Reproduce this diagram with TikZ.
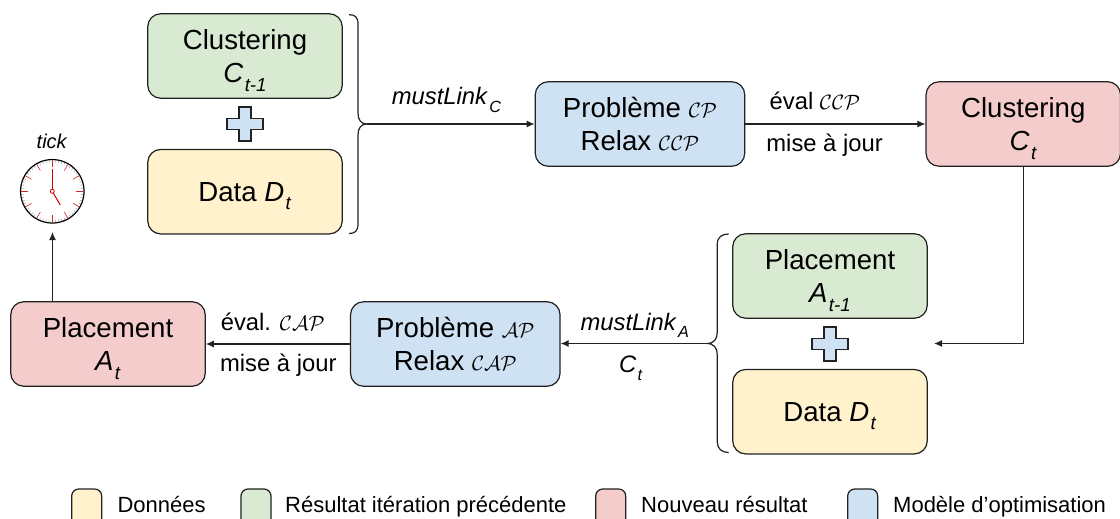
\documentclass[tikz,border=0pt]{standalone}
\usepackage{fontspec}
\setmainfont{Liberation Sans}
\usetikzlibrary{arrows.meta,calc}
\definecolor{cdata}{HTML}{FFF2CC}
\definecolor{cprev}{HTML}{D9EAD3}
\definecolor{cnew}{HTML}{F4CCCC}
\definecolor{cmodel}{HTML}{CFE2F3}
\definecolor{cline}{HTML}{222222}
\definecolor{chand}{HTML}{CC0000}
\newcommand{\idx}[2]{\textit{#1}\hspace{0.05em}\raisebox{-0.32em}[0pt][0pt]{\scalebox{0.68}{\textit{#2}}}}
\newcommand{\callig}[1]{{\fontsize{22}{22}\selectfont$\mathcal{#1}$}}
\tikzset{
  box/.style={draw=cline, line width=1.2pt, rounded corners=13pt, minimum width=194.5pt, minimum height=84.5pt,
    inner sep=0pt, align=center, font=\fontsize{27.6}{33}\selectfont},
  model/.style={box, fill=cmodel, minimum width=209.5pt},
  edgetext/.style={anchor=base, inner sep=0pt, font=\fontsize{23.8}{28}\selectfont},
  legendbox/.style={draw=cline, line width=1.2pt, fill=#1, rounded corners=7pt},
  legendtext/.style={anchor=base west, inner sep=0pt, font=\fontsize{22}{26}\selectfont},
  flow/.style={draw=cline, line width=1.2pt, -{Latex[length=8pt,width=7pt]}},
  brace/.style={draw=cline, line width=1.2pt},
  plussign/.style={draw=cline, line width=1.2pt, fill=cmodel},
}
\begin{document}
\begin{tikzpicture}[x=1pt,y=-1pt]
\useasboundingbox (0,0) rectangle (1120,519);
\clip (0,0) rectangle (1120,519);
% first row
\node[box, fill=cprev] (clu0) at (245,56) {Clustering\\\idx{C}{t-1}};
\node[box, fill=cdata] (dat0) at (245,191.7) {Data \idx{D}{t}};
\node[model] (pbc) at (640,124) {Problème \callig{CP}\\Relax \callig{CCP}};
\node[box, fill=cnew] (clu1) at (1023.3,124) {Clustering\\\idx{C}{t}};
% second row
\node[box, fill=cprev] (pla0) at (830,276) {Placement\\\idx{A}{t-1}};
\node[box, fill=cdata] (dat1) at (830,411.7) {Data \idx{D}{t}};
\node[model] (pba) at (455.3,344) {Problème \callig{AP}\\Relax \callig{CAP}};
\node[box, fill=cnew] (pla1) at (108,344) {Placement\\\idx{A}{t}};
% plus signs
\foreach \cx/\cy in {245/124,830/344}{
\draw[plussign] (\cx-6,\cy-17) -- (\cx+6,\cy-17) -- (\cx+6,\cy-5.5) -- (\cx+18,\cy-5.5) -- (\cx+18,\cy+5.5) -- (\cx+6,\cy+5.5)
  -- (\cx+6,\cy+17) -- (\cx-6,\cy+17) -- (\cx-6,\cy+5.5) -- (\cx-18,\cy+5.5) -- (\cx-18,\cy-5.5) -- (\cx-6,\cy-5.5) -- cycle;
}
% braces
\coordinate (tipc) at (367,124);
\coordinate (tipa) at (706.7,343.5);
\draw[brace] (349,14.7) .. controls (355,14.7) and (358,17) .. (358,24) -- (358,113)
  .. controls (358,120) and (361,124) .. (tipc) .. controls (361,124) and (358,128) .. (358,135) -- (358,224)
  .. controls (358,231) and (355,233.5) .. (349,233.5);
\draw[brace] (728.7,234) .. controls (722,234) and (717.3,237) .. (717.3,244) -- (717.3,332)
  .. controls (717.3,339) and (714,343.5) .. (tipa) .. controls (714,343.5) and (717.3,348) .. (717.3,355) -- (717.3,442)
  .. controls (717.3,449) and (722,452.5) .. (728.7,452.5);
% connectors
\draw[flow] (tipc) -- (pbc);
\draw[flow] (pbc) -- (clu1);
\coordinate (inp) at (934,343.5);
\draw[flow] (clu1.south) |- (inp);
\draw[flow] (tipa) -- (pba.east |- tipa);
\draw[flow] (pba) -- (pla1);
% labels
\node[edgetext] (lmc) at (446.5,105) {\idx{mustLink}{C}};
\node[edgetext] (lec) at (815,110) {éval \callig{CCP}};
\node[edgetext] (lmj0) at (824.6,151.5) {mise à jour};
\node[edgetext] (lma) at (634.7,330) {\idx{mustLink}{A}};
\node[edgetext] (lct) at (631,372.5) {\idx{C}{t}};
\node[edgetext] (lea) at (272.8,330) {éval. \callig{CAP}};
\node[edgetext] (lmj1) at (278.3,371.7) {mise à jour};
% clock
\node[circle, draw=black, line width=1.2pt, fill=white, minimum size=63.5pt, inner sep=0pt] (clock) at (52.3,191.3) {};
\foreach \a in {0,6,...,354}{
\draw[gray!80, line width=0.5pt] ($(clock.center)+(\a:29)$) -- ($(clock.center)+(\a:31)$);
}
\foreach \a in {0,30,...,330}{
\draw[chand!85, line width=0.6pt] ($(clock.center)+(\a:24)$) -- ($(clock.center)+(\a:31)$);
}
\draw[chand, line width=1pt] (clock.center) -- ++(0,-22);
\draw[chand, line width=1pt] (clock.center) -- ++(8,13.8);
\node[circle, draw=chand, line width=0.8pt, fill=white, minimum size=4pt, inner sep=0pt] (axis) at (clock.center) {};
\node[anchor=base, inner sep=0pt, font=\fontsize{20}{24}\selectfont\itshape] (tick) at (51.7,148) {tick};
\coordinate (clk) at (52.5,232);
\draw[flow] (pla1.north -| clk) -- (clk);
% legend
\draw[legendbox=cdata] (71.7,489) rectangle (101.7,535);
\draw[legendbox=cprev] (241,489) rectangle (271,535);
\draw[legendbox=cnew] (595.7,489) rectangle (625.7,535);
\draw[legendbox=cmodel] (847.7,489) rectangle (877.7,535);
\node[legendtext] (leg0) at (117.3,512) {Données};
\node[legendtext] (leg1) at (285,512) {Résultat itération précédente};
\node[legendtext] (leg2) at (641,512) {Nouveau résultat};
\node[legendtext] (leg3) at (893,512) {Modèle d’optimisation};
\end{tikzpicture}
\end{document}
